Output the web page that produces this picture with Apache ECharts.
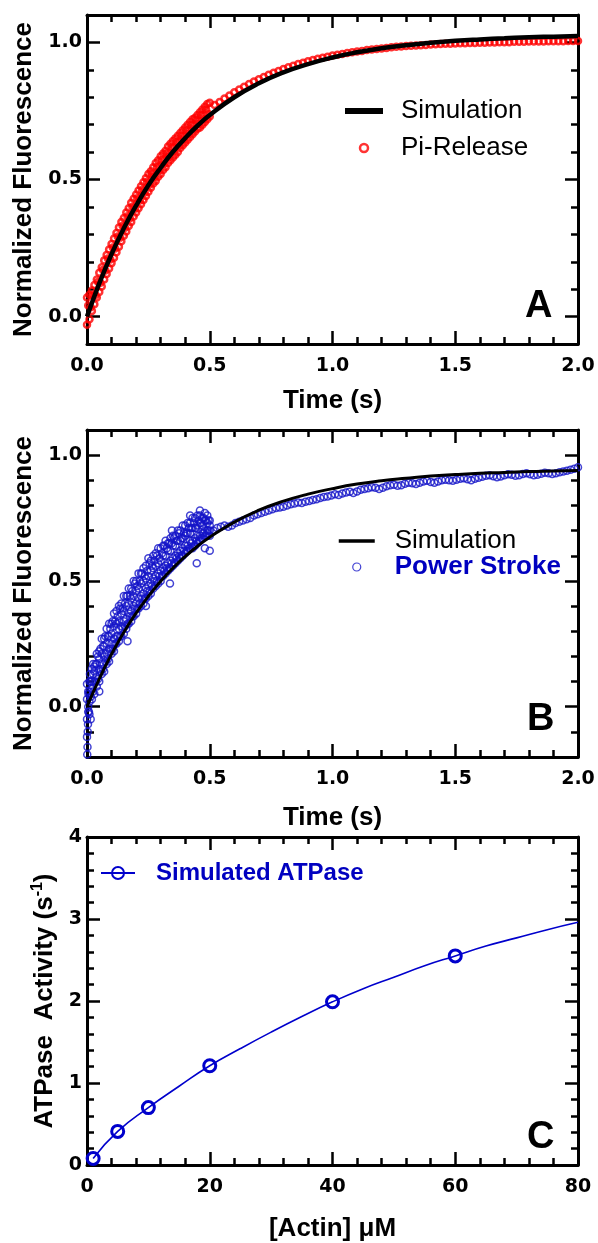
<!DOCTYPE html>
<html><head><meta charset="utf-8">
<script src="https://cdn.jsdelivr.net/npm/echarts@6/dist/echarts.min.js"></script>
<style>html,body{margin:0;padding:0;background:#fff}#chart{width:598px;height:1243px}</style>
</head><body><div id="chart"></div><script>
// ---------- Panel A : Pi-Release ----------
const simTime = [0,0.05,0.1,0.15,0.2,0.25,0.3,0.35,0.4,0.45,0.5,0.6,0.7,0.8,0.9,1.0,1.1,1.2,1.3,1.4,1.5,1.6,1.7,1.8,1.9,2.0];
const simA = [0,0.121,0.228,0.322,0.405,0.479,0.543,0.601,0.651,0.696,0.735,0.800,0.851,0.891,0.921,0.945,0.964,0.979,0.990,0.999,1.006,1.011,1.015,1.019,1.021,1.023];
const denseTimes = [0,0.01,0.02,0.03,0.04,0.05,0.06,0.07,0.08,0.09,0.1,0.11,0.12,0.13,0.14,0.15,0.16,0.17,0.18,0.19,0.2,0.21,0.22,0.23,0.24,0.25,0.26,0.27,0.28,0.29,0.3,0.31,0.32,0.33,0.34,0.35,0.36,0.37,0.38,0.39,0.4,0.41,0.42,0.43,0.44,0.45,0.46,0.47,0.48,0.49,0.5];
const halfTimes = [0.005,0.015,0.025,0.035,0.045,0.055,0.065,0.075,0.085,0.095,0.105,0.115,0.125,0.135,0.145,0.155,0.165,0.175,0.185,0.195,0.205,0.215,0.225,0.235,0.245,0.255,0.265,0.275,0.285,0.295,0.305,0.315,0.325,0.335,0.345,0.355,0.365,0.375,0.385,0.395,0.405,0.415,0.425,0.435,0.445,0.455,0.465,0.475,0.485,0.495];
const piUpper = [0.07,0.08,0.095,0.115,0.135,0.16,0.18,0.205,0.225,0.245,
  0.265,0.285,0.305,0.325,0.345,0.36,0.38,0.395,0.415,0.43,
  0.445,0.46,0.475,0.49,0.505,0.52,0.53,0.545,0.56,0.57,
  0.585,0.595,0.605,0.62,0.63,0.64,0.65,0.66,0.67,0.68,
  0.69,0.70,0.71,0.72,0.725,0.735,0.745,0.755,0.765,0.775,0.78];
const piLower = [-0.03,-0.01,0.02,0.045,0.07,0.09,0.11,0.135,0.155,0.175,
  0.195,0.215,0.235,0.255,0.275,0.295,0.31,0.33,0.345,0.365,
  0.38,0.395,0.41,0.425,0.44,0.455,0.47,0.485,0.495,0.51,
  0.52,0.535,0.545,0.56,0.57,0.58,0.59,0.60,0.615,0.625,
  0.635,0.645,0.655,0.665,0.675,0.685,0.69,0.70,0.71,0.72,0.73];
const piMid = [0.04,0.034,0.081,0.079,0.126,0.123,0.17,0.168,0.212,0.208,
  0.252,0.248,0.292,0.288,0.331,0.324,0.366,0.359,0.401,0.393,
  0.432,0.423,0.462,0.453,0.492,0.482,0.52,0.509,0.546,0.534,
  0.571,0.558,0.595,0.583,0.617,0.603,0.637,0.624,0.66,0.646,
  0.68,0.666,0.70,0.684,0.717,0.702,0.735,0.72,0.755,0.739];
const piLateTimes = [0.52,0.54,0.56,0.58,0.6,0.62,0.64,0.66,0.68,0.7,
  0.72,0.74,0.76,0.78,0.8,0.82,0.84,0.86,0.88,0.9,
  0.92,0.94,0.96,0.98,1.0,1.02,1.04,1.06,1.08,1.1,
  1.12,1.14,1.16,1.18,1.2,1.22,1.24,1.26,1.28,1.3,
  1.32,1.34,1.36,1.38,1.4,1.42,1.44,1.46,1.48,1.5,
  1.52,1.54,1.56,1.58,1.6,1.62,1.64,1.66,1.68,1.7,
  1.72,1.74,1.76,1.78,1.8,1.82,1.84,1.86,1.88,1.9,
  1.92,1.94,1.96,1.98,2.0];
const piLate = [0.772,0.783,0.795,0.806,0.818,0.828,0.838,0.848,0.857,0.866,
  0.874,0.882,0.889,0.896,0.903,0.909,0.915,0.921,0.926,0.931,
  0.936,0.940,0.944,0.948,0.952,0.955,0.958,0.961,0.964,0.967,
  0.969,0.972,0.974,0.976,0.978,0.980,0.982,0.984,0.985,0.987,
  0.988,0.989,0.990,0.991,0.992,0.993,0.994,0.995,0.995,0.996,
  0.997,0.997,0.998,0.998,0.999,0.999,1.000,1.000,1.001,1.001,
  1.001,1.002,1.002,1.002,1.003,1.003,1.003,1.003,1.004,1.004,
  1.004,1.004,1.005,1.005,1.005];

// ---------- Panel B : Power Stroke ----------
const simB = [0,0.111,0.209,0.296,0.372,0.439,0.499,0.551,0.597,0.638,0.674,0.734,0.781,0.817,0.845,0.867,0.885,0.898,0.908,0.917,0.923,0.928,0.931,0.935,0.937,0.939];
const psRow1 = [0.09,0.10,0.15,0.16,0.21,0.22,0.27,0.27,0.31,0.33,
  0.33,0.37,0.38,0.40,0.41,0.44,0.44,0.47,0.47,0.50,
  0.50,0.53,0.53,0.55,0.56,0.59,0.58,0.60,0.61,0.63,
  0.63,0.64,0.66,0.65,0.67,0.68,0.68,0.70,0.70,0.72,
  0.72,0.73,0.73,0.75,0.75,0.76,0.76,0.75,0.77,0.76,0.74];
const psRow2 = [0.03,0.06,0.10,0.14,0.17,0.19,0.21,0.24,0.25,0.28,
  0.29,0.32,0.33,0.34,0.37,0.38,0.40,0.41,0.43,0.44,
  0.46,0.47,0.49,0.50,0.51,0.52,0.54,0.55,0.56,0.57,
  0.58,0.60,0.60,0.62,0.62,0.64,0.64,0.66,0.66,0.67,
  0.68,0.69,0.69,0.71,0.71,0.72,0.73,0.72,0.74,0.73,0.72];
const psRow3 = [-0.05,0.02,0.07,0.10,0.12,0.15,0.17,0.20,0.21,0.23,
  0.25,0.27,0.28,0.31,0.32,0.34,0.35,0.37,0.38,0.40,
  0.41,0.43,0.44,0.45,0.47,0.48,0.49,0.51,0.52,0.53,
  0.54,0.55,0.56,0.57,0.58,0.59,0.60,0.61,0.62,0.63,
  0.64,0.64,0.66,0.66,0.67,0.68,0.68,0.69,0.70,0.70,0.70];
const psRow4 = [-0.12,-0.03,0.03,0.05,0.08,0.10,0.13,0.14,0.17,0.18,
  0.21,0.22,0.25,0.26,0.28,0.29,0.31,0.33,0.34,0.36,
  0.37,0.39,0.40,0.41,0.43,0.44,0.45,0.47,0.48,0.49,
  0.50,0.52,0.53,0.54,0.55,0.56,0.57,0.58,0.59,0.60,
  0.61,0.62,0.63,0.63,0.64,0.65,0.66,0.67,0.68,0.69,0.68];
const psRow5 = [0.06,0.10,0.13,0.17,0.20,0.23,0.24,0.28,0.28,0.31,
  0.34,0.34,0.36,0.39,0.39,0.41,0.44,0.44,0.46,0.49,
  0.48,0.50,0.53,0.52,0.54,0.57,0.56,0.58,0.60,0.59,
  0.61,0.64,0.63,0.65,0.65,0.67,0.66,0.69,0.67,0.69,
  0.69,0.71,0.71,0.73,0.71,0.74,0.73,0.75,0.74,0.74];
const psRow6 = [-0.02,0.04,0.06,0.10,0.11,0.14,0.15,0.18,0.19,0.22,
  0.23,0.25,0.28,0.28,0.31,0.32,0.33,0.36,0.36,0.39,
  0.39,0.41,0.43,0.43,0.46,0.46,0.48,0.50,0.50,0.52,
  0.52,0.54,0.55,0.55,0.57,0.57,0.59,0.60,0.60,0.62,
  0.62,0.63,0.65,0.64,0.66,0.66,0.67,0.69,0.68,0.70];
const psOutlierT = [0.001,0.002,0.003,0.004,0.005,0.006,0.008,0.012,0.015,0.025,0.05,0.165,0.24,0.338,0.346,0.447,0.5,0.48,0.42,0.46];
const psOutlierY = [-0.19,-0.16,-0.10,-0.07,0.0,0.05,-0.02,0.13,-0.05,0.17,0.06,0.26,0.40,0.49,0.70,0.57,0.62,0.63,0.76,0.78];
const psLateTimes = [0.515,0.53,0.545,0.56,0.575,0.59,0.605,0.62,0.635,0.65,
  0.665,0.68,0.695,0.71,0.725,0.74,0.755,0.77,0.785,0.8,
  0.815,0.83,0.845,0.86,0.875,0.89,0.905,0.92,0.935,0.95,
  0.965,0.98,0.995,1.01,1.025,1.04,1.055,1.07,1.085,1.1,
  1.115,1.13,1.145,1.16,1.175,1.19,1.205,1.22,1.235,1.25,
  1.265,1.28,1.295,1.31,1.325,1.34,1.355,1.37,1.385,1.4,
  1.415,1.43,1.445,1.46,1.475,1.49,1.505,1.52,1.535,1.55,
  1.565,1.58,1.595,1.61,1.625,1.64,1.655,1.67,1.685,1.7,
  1.715,1.73,1.745,1.76,1.775,1.79,1.805,1.82,1.835,1.85,
  1.865,1.88,1.895,1.91,1.925,1.94,1.955,1.97,1.985,2.0];
const psLate = [0.70,0.71,0.715,0.72,0.715,0.72,0.73,0.735,0.74,0.745,
  0.75,0.76,0.765,0.77,0.775,0.78,0.785,0.79,0.792,0.795,
  0.80,0.805,0.808,0.812,0.81,0.815,0.818,0.822,0.825,0.83,
  0.834,0.836,0.84,0.845,0.842,0.848,0.852,0.855,0.85,0.856,
  0.862,0.865,0.868,0.872,0.87,0.865,0.87,0.876,0.88,0.882,
  0.878,0.88,0.886,0.89,0.888,0.885,0.89,0.895,0.898,0.893,
  0.89,0.895,0.90,0.902,0.90,0.898,0.902,0.906,0.908,0.904,
  0.90,0.906,0.91,0.914,0.918,0.92,0.916,0.912,0.915,0.92,
  0.924,0.922,0.918,0.92,0.925,0.928,0.924,0.92,0.922,0.926,
  0.93,0.928,0.925,0.928,0.932,0.935,0.938,0.942,0.946,0.952];

// ---------- Panel C : Simulated ATPase ----------
const curveActin = [1,5,10,15,20,25,30,35,40,45,50,55,60,65,70,75,80];
const curveRate = [0.08,0.40,0.70,0.96,1.20,1.42,1.62,1.81,1.99,2.15,2.29,2.43,2.56,2.67,2.77,2.87,2.96];
const pointActin = [1,5,10,20,40,60];
const pointRate = [0.08,0.41,0.70,1.21,1.99,2.55];

const timeTicks = ['0.0','0.5','1.0','1.5','2.0'];

// ---------- build ----------
const TF = 'Liberation Sans, Arial, Helvetica, sans-serif';
const LF = 'DejaVu Sans, Verdana, sans-serif';
const RED = '#ff0000', BLUE = '#1414c8', BLUE_T = '#0000c0', BLUE_C = '#0000cc';
const titleStyle = {fontFamily: TF, fontSize: 26, fontWeight: 'bold', color: '#000'};
const labelStyle = {fontFamily: LF, fontSize: 19, fontWeight: 'bold', color: '#000'};

function half(v){ return Math.abs(v*2 - Math.round(v*2)) < 1e-6; }

function baseAxis(grid, extra){
  return Object.assign({
    gridIndex: grid, type: 'value',
    axisLine: {onZero: false, lineStyle: {color: '#000', width: 3}},
    axisTick: {inside: true, length: 13, lineStyle: {color: '#000', width: 2.5}},
    minorTick: {show: true, splitNumber: 5, length: 7, lineStyle: {color: '#000', width: 2.5}},
    splitLine: {show: false}, minorSplitLine: {show: false}
  }, extra);
}
function xPair(grid, min, max, interval, name, gap, fmt){
  return [
    baseAxis(grid, {position: 'bottom', min, max, interval, name, nameLocation: 'middle', nameGap: gap,
      nameTextStyle: titleStyle, axisLabel: Object.assign({margin: 13, formatter: fmt}, labelStyle)}),
    baseAxis(grid, {position: 'top', min, max, interval, axisLabel: {show: false}})
  ];
}
function yPair(grid, range, name, gap, fmt, nameStyle){
  return [
    baseAxis(grid, Object.assign({position: 'left', name, nameLocation: 'middle', nameGap: gap,
      nameTextStyle: nameStyle || titleStyle, axisLabel: Object.assign({margin: 5, formatter: fmt}, labelStyle)}, range)),
    baseAxis(grid, Object.assign({position: 'right', axisLabel: {show: false}}, range))
  ];
}
const fmtTime = v => { const i = Math.round(v*2); return half(v) ? timeTicks[i] || v.toFixed(1) : ''; };
const fmtHalf = v => half(v) ? v.toFixed(1) : '';

const piData = [];
denseTimes.forEach((t,i) => { piData.push([t, piUpper[i]]); piData.push([t, piLower[i]]); });
halfTimes.forEach((t,i) => piData.push([t, piMid[i]]));
piLateTimes.forEach((t,i) => piData.push([t, piLate[i]]));

const psData = [];
denseTimes.forEach((t,i) => { psData.push([t, psRow1[i]], [t, psRow2[i]], [t, psRow3[i]], [t, psRow4[i]]); });
halfTimes.forEach((t,i) => { psData.push([t, psRow5[i]], [t, psRow6[i]]); });
psOutlierT.forEach((t,i) => psData.push([t, psOutlierY[i]]));
psLateTimes.forEach((t,i) => psData.push([t, psLate[i]]));

const atpData = curveActin.map((x,i) => {
  const k = pointActin.indexOf(x);
  return k >= 0 ? {value: [x, pointRate[k]], symbol: 'circle'} : {value: [x, curveRate[i]], symbol: 'none'};
});

const panelLabel = {fontFamily: TF, fontSize: 38, fontWeight: 'bold', color: '#000'};
const option = {
  animation: false,
  backgroundColor: '#fff',
  title: [
    {text: 'A', left: 525, top: 288, padding: 0, textStyle: panelLabel},
    {text: 'B', left: 527, top: 701, padding: 0, textStyle: panelLabel},
    {text: 'C', left: 527, top: 1119, padding: 0, textStyle: panelLabel}
  ],
  grid: [
    {left: 87, top: 15, width: 491, height: 329},
    {left: 87, top: 430, width: 491, height: 327},
    {left: 87, top: 837, width: 491, height: 330}
  ],
  xAxis: [].concat(
    xPair(0, 0, 2, 0.5, 'Time (s)', 44, fmtTime),
    xPair(1, 0, 2, 0.5, 'Time (s)', 48, fmtTime),
    xPair(2, 0, 80, 20, '[Actin] μM', 51, v => String(v))
  ),
  yAxis: [].concat(
    yPair(0, {min: -0.1, max: 1.1, splitNumber: 2}, 'Normalized Fluorescence', 50, fmtHalf),
    yPair(1, {min: -0.2, max: 1.1, splitNumber: 2}, 'Normalized Fluorescence', 50, fmtHalf),
    yPair(2, {min: 0, max: 4, interval: 1}, '{a|ATPase  Activity (s}{b|-1}{a|)}', 24, v => String(v),
      {rich: {a: {fontFamily: TF, fontSize: 26, fontWeight: 'bold', color: '#000', lineHeight: 30},
              b: {fontFamily: TF, fontSize: 16, fontWeight: 'bold', color: '#000', verticalAlign: 'top'}}})
  ),
  legend: [
    {left: 342, top: 98, orient: 'vertical', padding: 0, itemWidth: 38, itemHeight: 8, itemGap: 11, selectedMode: false,
     textStyle: {fontFamily: TF, fontSize: 26, color: '#000', padding: [0,0,0,13]},
     data: [{name: 'Simulation', lineStyle: {width: 6, color: '#000'}, itemStyle: {opacity: 0}},
            {name: 'Pi-Release', itemStyle: {color: 'rgba(0,0,0,0)', borderColor: RED, borderWidth: 2.5}}]},
    {left: 337, top: 528, orient: 'vertical', padding: 0, itemWidth: 36, itemHeight: 8, itemGap: 0, selectedMode: false,
     textStyle: {fontFamily: TF, fontSize: 26, color: '#000', padding: [0,0,0,15]},
     data: [{name: 'Simulation', lineStyle: {width: 3.5, color: '#000'}, itemStyle: {opacity: 0}},
            {name: 'Power Stroke', itemStyle: {color: 'rgba(0,0,0,0)', borderColor: BLUE, borderWidth: 1.2},
             textStyle: {fontWeight: 'bold', color: BLUE_T}}]},
    {left: 100, top: 861, orient: 'vertical', padding: 0, itemWidth: 34, itemHeight: 15, selectedMode: false,
     textStyle: {fontFamily: TF, fontSize: 24, fontWeight: 'bold', color: BLUE_T, padding: [0,0,0,16]},
     data: ['Simulated ATPase']}
  ],
  series: [
    {name: 'Pi-Release', type: 'scatter', xAxisIndex: 0, yAxisIndex: 0, data: piData, symbol: 'circle', symbolSize: 6,
     itemStyle: {color: 'rgba(0,0,0,0)', borderColor: RED, borderWidth: 2.5}, z: 2, emphasis: {disabled: true}},
    {name: 'Simulation', type: 'line', xAxisIndex: 0, yAxisIndex: 0, data: simTime.map((t,i) => [t, simA[i]]),
     smooth: true, symbol: 'none', lineStyle: {color: '#000', width: 4.5}, itemStyle: {color: '#000'}, z: 3},
    {name: 'Power Stroke', type: 'scatter', xAxisIndex: 2, yAxisIndex: 2, data: psData, symbol: 'circle', symbolSize: 7,
     itemStyle: {color: 'rgba(0,0,0,0)', borderColor: BLUE, borderWidth: 1.5}, z: 2, emphasis: {disabled: true}},
    {name: 'Simulation', type: 'line', xAxisIndex: 2, yAxisIndex: 2, data: simTime.map((t,i) => [t, simB[i]]),
     smooth: true, symbol: 'none', lineStyle: {color: '#000', width: 3}, itemStyle: {color: '#000'}, z: 3},
    {name: 'Simulated ATPase', type: 'line', xAxisIndex: 4, yAxisIndex: 4, data: atpData, smooth: true,
     symbol: 'circle', symbolSize: 12, showSymbol: true,
     lineStyle: {color: BLUE_C, width: 1.6}, itemStyle: {color: 'rgba(0,0,0,0)', borderColor: BLUE_C, borderWidth: 3}, z: 3}
  ]
};
const chart = echarts.init(document.getElementById('chart'), null, {renderer: 'canvas'});
chart.setOption(option);
</script></body></html>
